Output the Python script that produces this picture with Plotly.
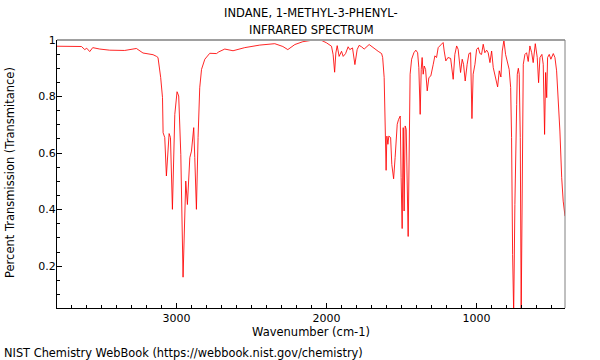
import plotly.graph_objects as go

# Wavenumber (cm-1)
wavenumber = [
    3796, 3711, 3633, 3611, 3598, 3578, 3558, 3511, 3445, 3345, 3267, 3223, 3156, 3133, 3123,
    3105, 3093, 3089, 3078, 3067, 3049, 3040, 3027, 3011, 2996, 2985, 2971, 2956, 2945, 2938,
    2927, 2911, 2900, 2885, 2878, 2867, 2856, 2845, 2833, 2811, 2778, 2733, 2718, 2678, 2623,
    2545, 2445, 2345, 2291, 2258, 2211, 2158, 2098, 2031, 2000, 1967, 1956, 1946, 1938, 1929,
    1916, 1900, 1889, 1873, 1856, 1845, 1827, 1811, 1796, 1783, 1767, 1749, 1716, 1689, 1656,
    1633, 1626, 1616, 1609, 1603, 1598, 1591, 1585, 1573, 1565, 1553, 1543, 1529, 1520, 1509,
    1503, 1496, 1489, 1483, 1476, 1469, 1456, 1447, 1443, 1433, 1418, 1405, 1393, 1385, 1376,
    1369, 1363, 1356, 1349, 1340, 1329, 1318, 1305, 1289, 1278, 1267, 1256, 1238, 1227, 1223,
    1216, 1205, 1191, 1173, 1156, 1145, 1133, 1123, 1107, 1096, 1087, 1076, 1063, 1051, 1040,
    1031, 1023, 1011, 1000, 989, 978, 967, 956, 945, 933, 923, 911, 900, 889, 873,
    860, 849, 838, 829, 818, 807, 793, 783, 773, 767, 760, 753, 745, 738, 733,
    729, 722, 716, 709, 703, 696, 689, 678, 667, 656, 645, 633, 623, 609, 596,
    587, 578, 565, 556, 547, 540, 533, 527, 516, 505, 489, 478, 467, 456, 445,
    433, 423, 411,
]

# Transmittance (fraction)
transmittance = [
    0.978, 0.977, 0.977, 0.966, 0.971, 0.959, 0.973, 0.968, 0.964, 0.963, 0.970, 0.954, 0.948, 0.942, 0.938,
    0.867, 0.796, 0.672, 0.655, 0.519, 0.669, 0.655, 0.401, 0.737, 0.817, 0.802, 0.595, 0.161, 0.418, 0.501,
    0.418, 0.584, 0.607, 0.690, 0.584, 0.401, 0.655, 0.831, 0.896, 0.932, 0.953, 0.952, 0.958, 0.968, 0.962,
    0.973, 0.982, 0.987, 0.977, 0.966, 0.984, 0.994, 0.999, 0.998, 0.990, 0.978, 0.948, 0.886, 0.954, 0.980,
    0.942, 0.960, 0.942, 0.952, 0.976, 0.966, 0.972, 0.913, 0.966, 0.981, 0.976, 0.968, 0.984, 0.972, 0.960,
    0.952, 0.938, 0.867, 0.737, 0.539, 0.660, 0.631, 0.660, 0.655, 0.560, 0.509, 0.584, 0.702, 0.719, 0.731,
    0.513, 0.333, 0.690, 0.395, 0.696, 0.684, 0.305, 0.655, 0.879, 0.932, 0.955, 0.964, 0.955, 0.902, 0.737,
    0.896, 0.938, 0.879, 0.908, 0.896, 0.820, 0.867, 0.873, 0.914, 0.944, 0.938, 0.973, 0.983, 0.987, 0.991,
    0.961, 0.926, 0.938, 0.935, 0.861, 0.949, 0.979, 0.967, 0.885, 0.932, 0.914, 0.855, 0.914, 0.952, 0.955,
    0.722, 0.879, 0.914, 0.967, 0.973, 0.952, 0.949, 0.985, 0.955, 0.964, 0.955, 0.920, 0.961, 0.902, 0.861,
    0.834, 0.891, 0.869, 0.961, 0.999, 0.949, 0.920, 0.896, 0.832, 0.655, 0.241, 0.030, 0.418, 0.714, 0.772,
    0.879, 0.900, 0.879, 0.655, 0.030, 0.655, 0.914, 0.949, 0.955, 0.924, 0.979, 0.955, 0.920, 0.987, 0.938,
    0.849, 0.938, 0.949, 0.914, 0.666, 0.885, 0.796, 0.938, 0.949, 0.932, 0.952, 0.938, 0.891, 0.796, 0.678,
    0.513, 0.430, 0.377,
]

x_tick_vals = [3000, 2000, 1000]
x_tick_text = ["3000", "2000", "1000"]
y_tick_vals = [0.2, 0.4, 0.6, 0.8, 1.0]
y_tick_text = ["0.2", "0.4", "0.6", "0.8", "1"]

title_lines = ["INDANE, 1-METHYL-3-PHENYL-", "INFRARED SPECTRUM"]
x_title = "Wavenumber (cm-1)"
y_title = "Percent Transmission (Transmitance)"
footer = "NIST Chemistry WebBook (https://webbook.nist.gov/chemistry)"

FONT = "DejaVu Sans"

W, H = 600, 360
L, R, T, B = 57, 35, 40, 52
pw, ph = W - L - R, H - T - B

def px(xp):
    return (xp - L) / pw

def py(yp):
    return (H - B - yp) / ph

fig = go.Figure()
fig.add_trace(go.Scatter(
    x=wavenumber, y=transmittance, mode="lines",
    line=dict(color="rgba(255,0,0,0.85)", width=1),
    hoverinfo="skip", showlegend=False,
))

fig.update_layout(
    width=W, height=H,
    margin=dict(l=L, r=R, t=T, b=B),
    paper_bgcolor="white", plot_bgcolor="white",
    font=dict(family=FONT, size=11, color="black"),
    showlegend=False,
    hovermode=False,
    xaxis=dict(
        range=[3796, 411], showgrid=False, zeroline=False,
        showline=True, linecolor="black", linewidth=1,
        ticks="inside", ticklen=5, tickwidth=1, tickcolor="black",
        tickvals=x_tick_vals, ticktext=x_tick_text,
        tickfont=dict(family=FONT, size=11),
        minor=dict(ticks="inside", ticklen=3, tickwidth=1, tickcolor="black", dtick=100, tick0=0),
    ),
    yaxis=dict(
        range=[0.052, 1.0], showgrid=False, zeroline=False,
        showline=True, linecolor="black", linewidth=1,
        ticks="inside", ticklen=5, tickwidth=1, tickcolor="black",
        tickvals=y_tick_vals, ticktext=y_tick_text,
        tickfont=dict(family=FONT, size=11),
        ticklabelstandoff=-2,
        minor=dict(ticks="inside", ticklen=3, tickwidth=1, tickcolor="black", dtick=0.05, tick0=0),
    ),
    shapes=[
        dict(type="line", xref="paper", yref="paper", x0=0, x1=1, y0=1, y1=1,
             line=dict(color="#a0a0a0", width=2)),
        dict(type="line", xref="paper", yref="paper", x0=1, x1=1, y0=0, y1=1,
             line=dict(color="#808080", width=1)),
    ],
)

anns = [
    dict(text=title_lines[0], x=px(311), y=py(13), size=11.5),
    dict(text=title_lines[1], x=px(311), y=py(30), size=11.5),
    dict(text=x_title, x=px(311), y=py(332), size=11.5),
    dict(text=y_title, x=px(10), y=py(173), textangle=-90, size=11.5),
    dict(text=footer, x=px(2), y=py(353), xanchor="left", size=11.4),
]
for a in anns:
    a = dict(a)
    size = a.pop("size")
    a.setdefault("xanchor", "center")
    fig.add_annotation(xref="paper", yref="paper", showarrow=False, yanchor="middle",
                       font=dict(family=FONT, size=size, color="black"), **a)

fig.write_html(
    "out.html",
    config={"displayModeBar": False, "staticPlot": True},
    post_script="document.body.style.margin='0';document.body.style.padding='0';",
)
